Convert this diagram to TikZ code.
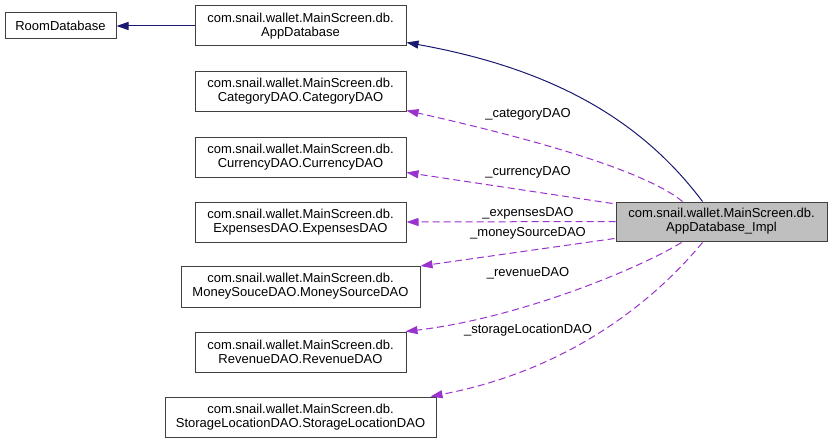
\documentclass[tikz,border=0pt]{standalone}
\usepackage{fontspec}
\setmainfont{Liberation Sans}
\usetikzlibrary{arrows.meta,calc}
\definecolor{edgeblue}{HTML}{191970}
\definecolor{edgepurple}{HTML}{9A32CD}
\definecolor{boxline}{HTML}{404040}
\definecolor{implfill}{HTML}{BFBFBF}
\begin{document}
\begin{tikzpicture}[x=1pt,y=-1pt,
  cls/.style={draw=boxline,line width=1pt,fill=white,inner sep=0pt,align=center,
    font=\fontsize{13}{14}\selectfont,minimum height=40pt},
  lbl/.style={inner sep=0pt,font=\fontsize{13}{14}\selectfont},
  inh/.style={draw=edgeblue,line width=1pt,-{Triangle[length=12pt,width=8pt]}},
  use/.style={draw=edgepurple,line width=1pt,dash pattern=on 7pt off 4pt,-{Triangle[length=12pt,width=8pt,fill=edgepurple]}}]
\useasboundingbox (0,0) rectangle (832,444);
\node[cls,minimum width=111pt,minimum height=26pt] (room) at (60.5,26) {RoomDatabase};
\node[cls,minimum width=211pt] (appdb) at (300.5,26) {com.snail.wallet.MainScreen.db.\\AppDatabase};
\node[cls,minimum width=211pt] (cat) at (300.5,91) {com.snail.wallet.MainScreen.db.\\CategoryDAO.CategoryDAO};
\node[cls,minimum width=211pt] (cur) at (300.5,157) {com.snail.wallet.MainScreen.db.\\CurrencyDAO.CurrencyDAO};
\node[cls,minimum width=211pt] (exp) at (300.5,222) {com.snail.wallet.MainScreen.db.\\ExpensesDAO.ExpensesDAO};
\node[cls,minimum width=239pt,minimum height=41pt] (money) at (300.5,286.5) {com.snail.wallet.MainScreen.db.\\MoneySouceDAO.MoneySourceDAO};
\node[cls,minimum width=211pt] (rev) at (300.5,352) {com.snail.wallet.MainScreen.db.\\RevenueDAO.RevenueDAO};
\node[cls,minimum width=271pt] (stor) at (300.5,417) {com.snail.wallet.MainScreen.db.\\StorageLocationDAO.StorageLocationDAO};
\node[cls,fill=implfill,minimum width=211pt,minimum height=39pt] (impl) at (721.5,221.5) {com.snail.wallet.MainScreen.db.\\AppDatabase\_Impl};

\draw[inh] (appdb.west) -- (room.east);
\draw[inh] ($(impl.north west)+(87,0)$) .. controls (645,125) and (560,70) .. ($(appdb.south east)+(0,-4)$);

\draw[use] ($(impl.north west)+(67,0)$) .. controls (650,175) and (560,145) .. ($(cat.south east)+(0,-1)$);
\draw[use] ($(impl.north west)+(-3,2)$) -- ($(cur.south east)+(0,-5)$);
\draw[use] (impl.west) -- (exp.east);
\draw[use] ($(impl.south west)+(-1,-3)$) -- ($(money.north east)+(0,0.5)$);
\draw[use] ($(impl.south west)+(66,1)$) .. controls (640,268) and (520,318) .. ($(rev.north east)+(-1,0)$);
\draw[use] ($(impl.south west)+(87,1)$) .. controls (655,300) and (570,370) .. ($(stor.north east)+(-6,0)$);

\node[lbl] (lcat) at (528,114) {\_categoryDAO};
\node[lbl] (lcur) at (528,172) {\_currencyDAO};
\node[lbl] (lexp) at (528,213) {\_expensesDAO};
\node[lbl] (lmoney) at (528,233) {\_moneySourceDAO};
\node[lbl] (lrev) at (528,273) {\_revenueDAO};
\node[lbl] (lstor) at (528,330) {\_storageLocationDAO};
\end{tikzpicture}
\end{document}
